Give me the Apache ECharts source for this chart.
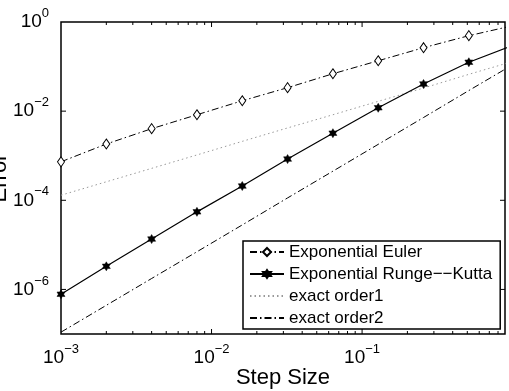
<!DOCTYPE html>
<html>
<head>
<meta charset="utf-8">
<script src="https://cdn.jsdelivr.net/npm/echarts@6/dist/echarts.min.js"></script>
<style>
html, body { margin: 0; padding: 0; background: #fff; }
#main { width: 509px; height: 391px; }
</style>
</head>
<body>
<div id="main"></div>
<script>
// step sizes h = 2^k * 1e-3 (the last one lies past the frame, so the lines run to the edge)
var stepSize = [0.001, 0.002, 0.004, 0.008, 0.016, 0.032, 0.064, 0.128, 0.256, 0.512, 1.024];
var errEuler = [7.3e-4, 1.83e-3, 4.04e-3, 8.3e-3, 1.71e-2, 3.36e-2, 6.9e-2, 0.135, 0.265, 0.493, 0.84];
var errRK    = [7.8e-7, 3.3e-6, 1.35e-5, 5.5e-5, 2.09e-4, 8.4e-4, 3.2e-3, 1.19e-2, 4.06e-2, 0.125, 0.305];
var order1   = [1.3e-4, 2.6e-4, 5.2e-4, 1.04e-3, 2.1e-3, 4.2e-3, 8.3e-3, 1.66e-2, 3.3e-2, 6.7e-2, 0.133];
var order2   = [1.1e-7, 4.4e-7, 1.76e-6, 7.0e-6, 2.8e-5, 1.13e-4, 4.5e-4, 1.8e-3, 7.2e-3, 2.9e-2, 0.115];

// tick positions
var xMajorTicks = [0.01, 0.1];
var xMinorTicks = [0.002, 0.003, 0.004, 0.005, 0.006, 0.007, 0.008, 0.009,
                   0.02, 0.03, 0.04, 0.05, 0.06, 0.07, 0.08, 0.09,
                   0.2, 0.3, 0.4, 0.5, 0.6, 0.7, 0.8];
var yMajorTicks = [1e-6, 1e-4, 1e-2];

var FONT = '"Liberation Sans", Arial, Helvetica, sans-serif';

function pairs(xs, ys) {
    return xs.map(function (x, i) { return [x, ys[i]]; });
}

// six pointed star like matlab 'h' marker
function hexagramPath() {
    var pts = [];
    for (var i = 0; i < 12; i++) {
        var r = i % 2 === 0 ? 1 : 0.577;
        var a = Math.PI / 2 + i * Math.PI / 6;
        pts.push((r * Math.cos(a)).toFixed(3) + ' ' + (-r * Math.sin(a)).toFixed(3));
    }
    return 'path://M' + pts.join(' L') + ' Z';
}

// 10^n labels
function powLabel(v, evenOnly) {
    var l = Math.log(v) / Math.LN10;
    var e = Math.round(l);
    if (Math.abs(l - e) > 1e-6) return '';
    if (evenOnly && e % 2 !== 0) return '';
    return '{b|10}{s|' + (e < 0 ? '\u2212' : '') + Math.abs(e) + '}';
}
var powRich = {
    b: { fontSize: 19, lineHeight: 30, color: '#000', fontFamily: FONT },
    s: { fontSize: 13, lineHeight: 13, verticalAlign: 'top', color: '#000', fontFamily: FONT }
};

// inward ticks on both sides of the box
function tickSeries(values, dir, len) {
    return {
        type: 'custom',
        silent: true,
        z: 4,
        data: values.map(function (v) { return dir === 'x' ? [v, 1e-3] : [0.01, v]; }),
        renderItem: function (params, api) {
            var cs = params.coordSys;
            var p = api.coord([api.value(0), api.value(1)]);
            var st = { stroke: '#000', lineWidth: 1 };
            if (dir === 'x') {
                return { type: 'group', children: [
                    { type: 'line', shape: { x1: p[0], y1: cs.y + cs.height, x2: p[0], y2: cs.y + cs.height - len }, style: st },
                    { type: 'line', shape: { x1: p[0], y1: cs.y, x2: p[0], y2: cs.y + len }, style: st }
                ] };
            }
            return { type: 'group', children: [
                { type: 'line', shape: { x1: cs.x, y1: p[1], x2: cs.x + len, y2: p[1] }, style: st },
                { type: 'line', shape: { x1: cs.x + cs.width, y1: p[1], x2: cs.x + cs.width - len, y2: p[1] }, style: st }
            ] };
        }
    };
}

var myChart = echarts.init(document.getElementById('main'), null, { renderer: 'canvas' });

var option = {
    animation: false,
    backgroundColor: '#fff',
    grid: {
        left: 61, right: 4, top: 22, bottom: 57,
        containLabel: false, outerBoundsMode: 'none',
        show: true, borderColor: '#000', borderWidth: 1.5, backgroundColor: '#fff'
    },
    legend: {
        orient: 'vertical',
        left: 243, top: 241,
        padding: [2, 8, 2, 6],
        itemWidth: 34, itemHeight: 10, itemGap: 4,
        backgroundColor: '#fff', borderColor: '#000', borderWidth: 1.5,
        selectedMode: false,
        textStyle: { fontSize: 17, lineHeight: 18, color: '#000', fontFamily: FONT },
        data: [
            'Exponential Euler',
            'Exponential Runge\u2212\u2212Kutta',
            { name: 'exact order1', itemStyle: { opacity: 0 } },
            { name: 'exact order2', itemStyle: { opacity: 0 } }
        ]
    },
    xAxis: {
        type: 'log', logBase: 10,
        min: 0.001, max: 0.89,
        name: 'Step Size', nameLocation: 'middle', nameGap: 33, nameMoveOverlap: false,
        nameTextStyle: { fontSize: 22, color: '#000', fontFamily: FONT },
        axisLine: { show: false },
        axisTick: { show: false },
        splitLine: { show: false },
        minorTick: { show: false },
        axisLabel: {
            margin: 9, showMinLabel: true, showMaxLabel: true,
            formatter: function (v) { return powLabel(v, false); },
            rich: powRich
        }
    },
    yAxis: {
        type: 'log', logBase: 10,
        min: 1e-7, max: 1,
        name: 'Error', nameLocation: 'middle', nameGap: 50, nameMoveOverlap: false,
        nameTextStyle: { fontSize: 22, color: '#000', fontFamily: FONT },
        axisLine: { show: false },
        axisTick: { show: false },
        splitLine: { show: false },
        axisLabel: {
            margin: 12, showMinLabel: true, showMaxLabel: true,
            formatter: function (v) { return powLabel(v, true); },
            rich: powRich
        }
    },
    series: [
        {
            name: 'Exponential Euler',
            type: 'line',
            data: pairs(stepSize, errEuler),
            symbol: 'diamond', symbolSize: [7, 10],
            clip: true, z: 3,
            lineStyle: { color: '#000', width: 1, type: [7, 3, 1.5, 3] },
            itemStyle: { color: '#fff', borderColor: '#000', borderWidth: 1 }
        },
        {
            name: 'Exponential Runge\u2212\u2212Kutta',
            type: 'line',
            data: pairs(stepSize, errRK),
            symbol: hexagramPath(), symbolSize: [8, 9],
            clip: true, z: 3,
            lineStyle: { color: '#000', width: 1.2, type: 'solid' },
            itemStyle: { color: '#000', borderColor: '#000', borderWidth: 0.5 }
        },
        {
            name: 'exact order1',
            type: 'line',
            data: pairs(stepSize, order1),
            symbol: 'none',
            clip: true, z: 2,
            lineStyle: { color: '#999', width: 1, type: [1.5, 3] },
            itemStyle: { color: '#999' }
        },
        {
            name: 'exact order2',
            type: 'line',
            data: pairs(stepSize, order2),
            symbol: 'none',
            clip: true, z: 2,
            lineStyle: { color: '#000', width: 1, type: [7, 3, 1.5, 3] },
            itemStyle: { color: '#000' }
        },
        tickSeries(xMajorTicks, 'x', 5),
        tickSeries(xMinorTicks, 'x', 3),
        tickSeries(yMajorTicks, 'y', 5)
    ]
};

myChart.setOption(option);
</script>
</body>
</html>
